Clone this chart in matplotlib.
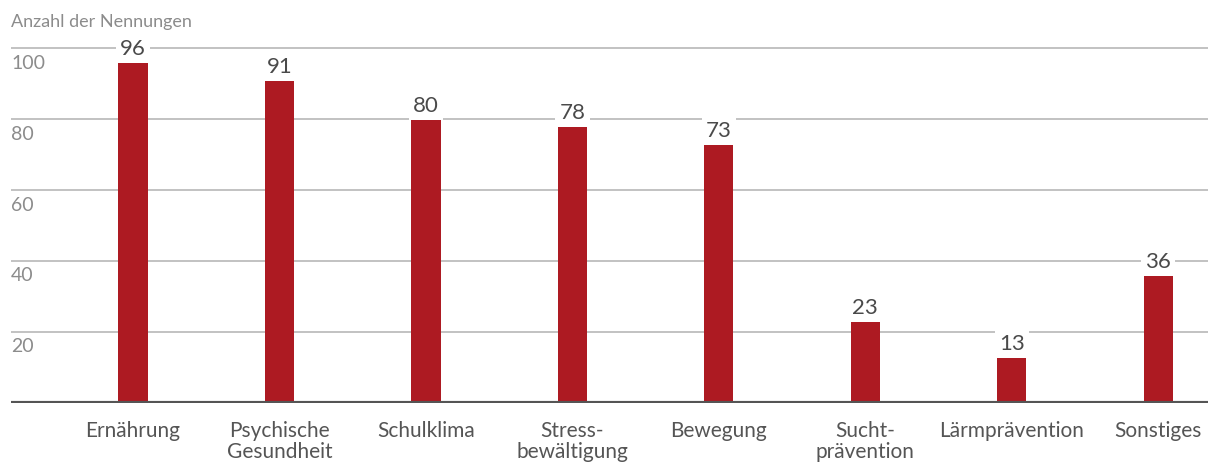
import matplotlib.pyplot as plt
import numpy as np

plt.rcParams['font.family'] = ['Lato', 'DejaVu Sans']

categories = ["Ernährung", "Psychische\nGesundheit", "Schulklima", "Stress-\nbewältigung",
              "Bewegung", "Sucht-\nprävention", "Lärmprävention", "Sonstiges"]
counts = [96, 91, 80, 78, 73, 23, 13, 36]
y_ticks = [20, 40, 60, 80, 100]

bar_color = "#ad1a22"

fig = plt.figure(figsize=(12.08, 4.65), dpi=100)
ax = fig.add_axes([11 / 1208, 62 / 465, 1197 / 1208, 369 / 465])

x = np.arange(len(categories))

# horizontal grid lines with labels sitting just below each line
for t in y_ticks:
    ax.axhline(t, color="#bdbdbd", lw=1.3, zorder=0)
    ax.text(0.0, t - 1.8, str(t), transform=ax.get_yaxis_transform(),
            ha="left", va="top", fontsize=14, color="#8c8c8c")

ax.bar(x, counts, width=0.2, color=bar_color, zorder=2)

for xi, v in zip(x, counts):
    ax.text(xi, v + 0.9, str(v), ha="center", va="bottom", fontsize=16,
            color="#4a4a4a", zorder=3,
            bbox=dict(facecolor="white", edgecolor="none", pad=3))

ax.axhline(0, color="#555555", lw=3, zorder=4)

ax.set_xlim(-0.833, 7.34)
ax.set_ylim(0, 104)
ax.set_xticks(x)
ax.set_xticklabels(categories, fontsize=15, color="#555555", linespacing=1.05)
ax.tick_params(axis="x", length=0, pad=13)
ax.set_yticks([])
for s in ax.spines.values():
    s.set_visible(False)

fig.text(11 / 1208, 1 - 22 / 465, "Anzahl der Nennungen", ha="left", va="center",
         fontsize=13, color="#8c8c8c")

fig.savefig("out.png", dpi=100)
